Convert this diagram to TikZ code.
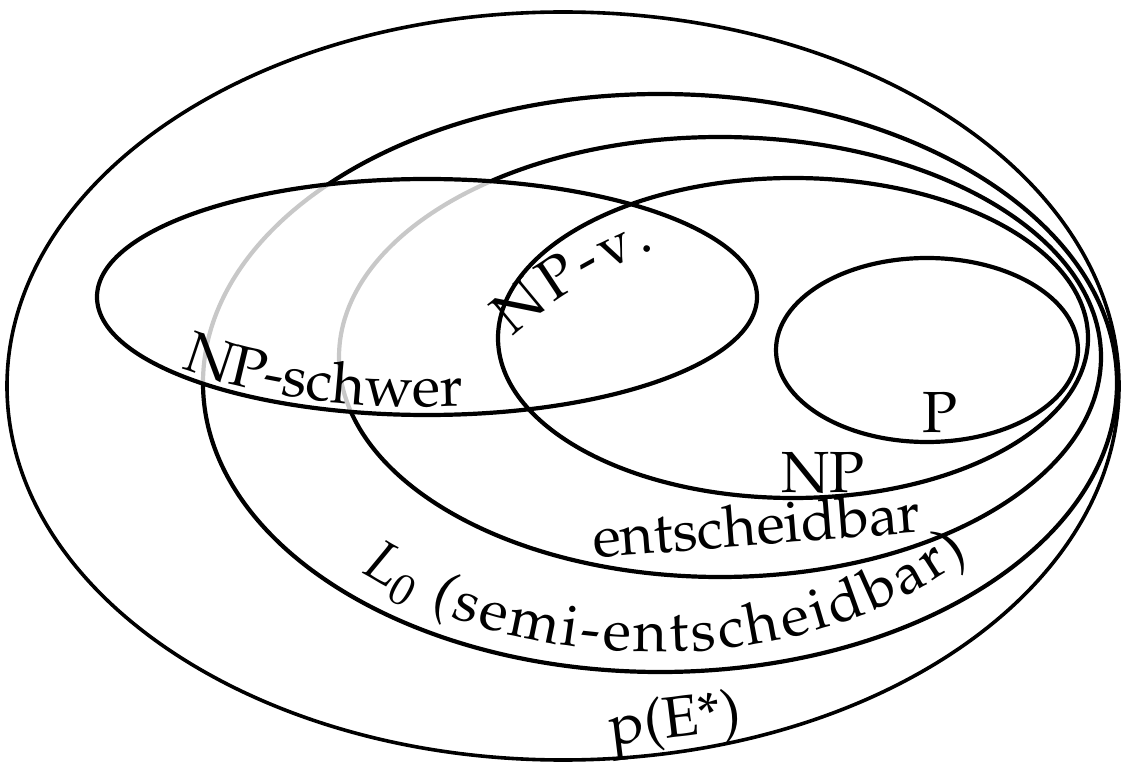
\documentclass[tikz,border=0pt]{standalone}
\usepackage[T1]{fontenc}
\usepackage{mathpazo}
\usepackage{xcolor}
\usetikzlibrary{decorations.text}
\definecolor{CHidden}{HTML}{C8C8C8}
\newcommand{\lblfont}{\fontsize{58}{60}\selectfont}

\begin{document}
\begin{tikzpicture}[x=1pt,y=1pt,
  setline/.style={line width=4.2pt},
  lbl/.style={font=\lblfont, inner sep=0pt, anchor=base}]
\useasboundingbox (0,0) rectangle (1124,764);
% outer sets
\draw[line width=3.6pt] (563,378) ellipse [x radius=556, y radius=374];
\draw[setline] (660,381) ellipse [x radius=457, y radius=289];
\draw[setline] (720,407) ellipse [x radius=381, y radius=220];
% parts hidden under NP-schwer
\begin{scope}
\clip (427,467) ellipse [x radius=330, y radius=118];
\fill[white] (427,467) ellipse [x radius=330, y radius=118];
\draw[setline, CHidden] (660,381) ellipse [x radius=457, y radius=289];
\draw[setline, CHidden] (720,407) ellipse [x radius=381, y radius=220];
\end{scope}
% inner sets
\draw[setline] (793,426) ellipse [x radius=295, y radius=160];
\draw[setline] (927,414) ellipse [x radius=151, y radius=92];
\draw[setline] (427,467) ellipse [x radius=330, y radius=118];
% labels
\node[lbl] (pL) at (940,331) {P};
\node[lbl] (npL) at (823,272) {NP};
\node[lbl, rotate=4.5] (entL) at (758,219) {entscheidbar};
\node[lbl, rotate=7] (peL) at (677,27) {p(E*)};
\path[decorate, decoration={text along path, text align=fit to path, text={|\lblfont|NP-v.}}]
  (799,120) ++(133:420) arc[start angle=133, end angle=110, radius=420];
\path[decorate, decoration={text along path, text={|\lblfont|NP-schwer}}]
  (427,467) ++(220:320 and 110) arc[start angle=220, end angle=300, x radius=320, y radius=110];
\path[decorate, decoration={text along path, text align=fit to path,
  text={|\lblfont|{$L_0$} (semi-entscheidbar)}}]
  (655,381) ++(224:410 and 269) arc[start angle=224, end angle=320, x radius=410, y radius=269];
\end{tikzpicture}
\end{document}
